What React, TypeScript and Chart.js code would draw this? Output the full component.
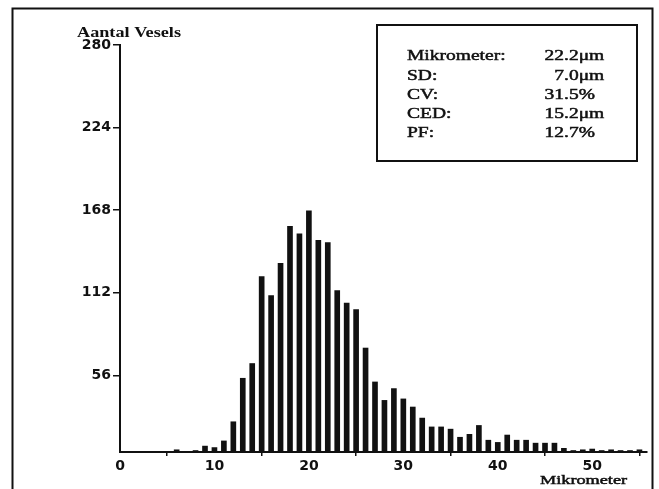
import { useEffect, useRef } from "react";
import { Chart, registerables } from "chart.js";

Chart.register(...registerables);

// Histogram bins (micrometer) and number of vessels per bin
const binMicrometers = [
  6, 7, 8, 9, 10, 11, 12, 13, 14, 15, 16, 17, 18, 19, 20, 21, 22, 23, 24, 25,
  26, 27, 28, 29, 30, 31, 32, 33, 34, 35, 36, 37, 38, 39, 40, 41, 42, 43, 44, 45,
  46, 47, 48, 49, 50, 51, 52, 53, 54, 55,
];
const vesselCounts = [
  5.5, null, 5, 8, 7, 11.5, 24.5, 54, 64, 123, 110, 132, 157, 152, 167.5, 147.5, 146, 113.5, 105, 100.5,
  74.5, 51.5, 39, 47, 40, 34.5, 27, 21, 21, 19.5, 14, 16, 22, 12, 10.5, 15.5, 12, 12, 10, 10,
  10, 6.5, 5, 5.5, 6, 5, 5.5, 5, 5, 5.5,
];

const yTickValues = [56, 112, 168, 224, 280];
const xTickValues = [0, 10, 20, 30, 40, 50];

const yAxisTitle = "Aantal Vesels";
const xAxisTitle = "Mikrometer";

const statLabels = ["Mikrometer:", "SD:", "CV:", "CED:", "PF:"];
const statIntegers = ["22", "7", "31", "15", "12"];
const statDecimals = [".2μm", ".0μm", ".5%", ".2μm", ".7%"];

const INK = "#111";

const decorPlugin = {
  id: "decor",
  afterDraw(chart: any) {
    const ctx = chart.ctx as CanvasRenderingContext2D;
    ctx.save();
    ctx.strokeStyle = INK;
    ctx.fillStyle = INK;

    // outer frame
    ctx.lineWidth = 2;
    ctx.beginPath();
    ctx.moveTo(12.5, 489);
    ctx.lineTo(12.5, 8.5);
    ctx.lineTo(652.5, 8.5);
    ctx.lineTo(652.5, 489);
    ctx.stroke();

    // stats box
    ctx.lineWidth = 2;
    ctx.strokeRect(377, 25, 260, 136);

    const drawStretched = (
      text: string,
      x: number,
      y: number,
      font: string,
      sx: number,
      align: CanvasTextAlign,
      weightStroke: number
    ) => {
      ctx.save();
      ctx.translate(x, y);
      ctx.scale(sx, 1);
      ctx.font = font;
      ctx.textAlign = align;
      ctx.textBaseline = "alphabetic";
      ctx.fillText(text, 0, 0);
      if (weightStroke > 0) {
        ctx.lineWidth = weightStroke;
        ctx.strokeText(text, 0, 0);
      }
      ctx.restore();
    };

    const boxFont = "15px 'Liberation Serif', 'DejaVu Serif', serif";
    const baselines = [60, 79.5, 98.5, 118, 136.5];
    statLabels.forEach((label, i) => {
      drawStretched(label, 407, baselines[i], boxFont, 1.3, "left", 0.5);
      drawStretched(statIntegers[i], 564, baselines[i], boxFont, 1.3, "right", 0.5);
      drawStretched(statDecimals[i], 564, baselines[i], boxFont, 1.3, "left", 0.5);
    });

    // axis titles
    drawStretched(
      yAxisTitle,
      77,
      37,
      "bold 14px 'Liberation Serif', 'DejaVu Serif', serif",
      1.3,
      "left",
      0
    );
    drawStretched(
      xAxisTitle,
      540,
      484,
      "13.5px 'Liberation Serif', 'DejaVu Serif', serif",
      1.35,
      "left",
      0.5
    );
    ctx.restore();
  },
};

export default function App() {
  const canvasRef = useRef<HTMLCanvasElement | null>(null);

  useEffect(() => {
    if (!canvasRef.current) return;
    const tickFont = { family: "'DejaVu Sans', sans-serif", weight: "bold" as const, size: 14 };
    const chart = new Chart(canvasRef.current, {
      type: "bar",
      data: {
        datasets: [
          {
            data: binMicrometers.map((x, i) => ({ x, y: vesselCounts[i] })),
            backgroundColor: INK,
            borderWidth: 0,
            barThickness: 5,
          } as any,
        ],
      },
      options: {
        responsive: false,
        animation: false,
        events: [],
        layout: { padding: { left: 0, top: 45, right: 12, bottom: 0 } },
        plugins: {
          legend: { display: false },
          tooltip: { enabled: false },
          title: { display: false },
        },
        scales: {
          x: {
            type: "linear",
            min: 0,
            max: 55.8,
            offset: false,
            afterBuildTicks: (scale: any) => {
              scale.ticks = xTickValues.map((v) => ({ value: v }));
            },
            afterFit: (scale: any) => {
              scale.height = 37;
            },
            ticks: {
              color: INK,
              font: tickFont,
              padding: 2,
              maxRotation: 0,
              autoSkip: false,
            },
            grid: {
              drawOnChartArea: false,
              drawTicks: true,
              tickLength: 4,
              color: INK,
              lineWidth: 1.5,
            },
            border: { display: true, color: INK, width: 2 },
          },
          y: {
            type: "linear",
            min: 4,
            max: 280,
            afterBuildTicks: (scale: any) => {
              scale.ticks = yTickValues.map((v) => ({ value: v }));
            },
            afterFit: (scale: any) => {
              scale.width = 120;
            },
            ticks: {
              color: INK,
              font: tickFont,
              padding: 2,
              autoSkip: false,
            },
            grid: {
              drawOnChartArea: false,
              drawTicks: true,
              tickLength: 7,
              color: INK,
              lineWidth: 1.5,
            },
            border: { display: true, color: INK, width: 2 },
          },
        },
      },
      plugins: [decorPlugin],
    });
    return () => chart.destroy();
  }, []);

  return (
    <div style={{ position: "absolute", left: 0, top: 0, width: 659, height: 489, background: "#fff" }}>
      <canvas ref={canvasRef} width={659} height={489} style={{ display: "block" }} />
    </div>
  );
}
